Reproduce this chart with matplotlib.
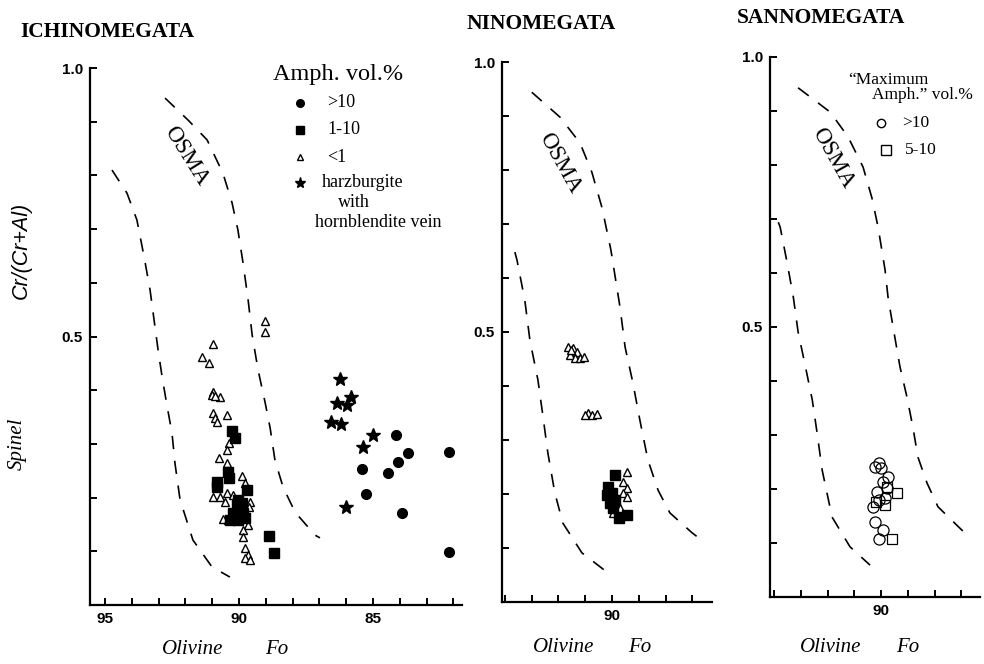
import matplotlib
matplotlib.use("Agg")
import matplotlib.pyplot as plt

plt.rcParams['font.family'] = ['Liberation Serif', 'DejaVu Serif']

# ---- Ichinomegata ----
ichi_tri_fo = [89.03, 89.03, 90.97, 91.38, 91.12, 90.97, 91.0, 90.71, 90.9, 90.97, 90.9, 90.82,
               90.45, 90.37, 90.45, 90.75, 90.45, 90.97, 90.71, 90.45, 90.22, 90.52, 89.89, 89.78,
               89.59, 89.63, 89.66, 89.85, 89.85, 89.78, 89.66, 89.78, 89.59, 90.6, 90.4]
ichi_tri_cr = [0.529, 0.508, 0.486, 0.462, 0.451, 0.397, 0.391, 0.387, 0.390, 0.357, 0.348, 0.341,
               0.354, 0.302, 0.289, 0.274, 0.264, 0.201, 0.201, 0.209, 0.205, 0.192, 0.240, 0.227,
               0.192, 0.183, 0.149, 0.140, 0.127, 0.106, 0.093, 0.088, 0.084, 0.160, 0.158]
ichi_sq_fo = [90.26, 90.15, 90.82, 90.82, 90.37, 90.41, 89.70, 90.04, 90.07, 89.96, 89.85, 90.22,
              90.34, 90.04, 89.78, 88.88, 88.69, 90.15, 89.9]
ichi_sq_cr = [0.324, 0.311, 0.229, 0.220, 0.236, 0.248, 0.214, 0.196, 0.186, 0.181, 0.171, 0.171,
              0.158, 0.158, 0.162, 0.128, 0.097, 0.165, 0.19]
ichi_star_fo = [86.23, 86.34, 85.97, 85.82, 86.57, 86.19, 85.00, 85.37, 86.01]
ichi_star_cr = [0.421, 0.376, 0.372, 0.387, 0.341, 0.337, 0.317, 0.294, 0.183]
ichi_dot_fo = [84.14, 83.69, 82.16, 85.41, 84.07, 84.44, 85.26, 83.92, 82.16]
ichi_dot_cr = [0.317, 0.283, 0.285, 0.253, 0.266, 0.246, 0.207, 0.171, 0.099]

# ---- Ninomegata ----
nino_tri_fo = [91.64, 91.46, 91.31, 91.57, 91.38, 91.19, 91.04, 91.52, 90.90, 90.75, 90.56, 91.0,
               89.44, 89.59, 89.44, 89.59, 89.44, 89.96, 89.7]
nino_tri_cr = [0.472, 0.470, 0.463, 0.457, 0.452, 0.452, 0.454, 0.466, 0.350, 0.346, 0.348, 0.347,
               0.241, 0.222, 0.211, 0.202, 0.194, 0.165, 0.175]
nino_sq_fo = [89.89, 90.15, 90.19, 90.00, 89.89, 90.07, 89.96, 89.74, 89.44]
nino_sq_cr = [0.235, 0.213, 0.198, 0.202, 0.189, 0.183, 0.174, 0.156, 0.161]

# ---- Sannomegata ----
san_circ_fo = [90.22, 90.07, 90.0, 89.74, 89.93, 89.78, 90.15, 90.07, 90.30, 89.85, 90.22, 89.93, 90.07]
san_circ_cr = [0.241, 0.248, 0.239, 0.222, 0.213, 0.202, 0.194, 0.180, 0.167, 0.183, 0.139, 0.124, 0.107]
san_sq_fo = [89.40, 89.59, 89.85, 90.19, 89.78]
san_sq_cr = [0.193, 0.107, 0.170, 0.176, 0.204]

# ---- OSMA dashed boundaries (per panel, as drawn) ----
osma_lo = {
    'ichi': ([94.74, 94.18, 93.81, 93.54, 93.32, 93.17, 93.02, 92.87, 92.69, 92.5, 92.39, 92.2,
              91.72, 91.01, 90.34],
             [0.810, 0.767, 0.717, 0.648, 0.587, 0.531, 0.475, 0.425, 0.372, 0.320, 0.264, 0.196,
              0.121, 0.071, 0.052]),
    'nino': ([93.62, 93.54, 93.25, 93.06, 92.76, 92.57, 92.39, 92.13, 91.83, 91.12, 90.15],
             [0.648, 0.633, 0.559, 0.485, 0.411, 0.343, 0.276, 0.202, 0.146, 0.091, 0.054]),
    'san': ([93.84, 93.77, 93.51, 93.28, 93.10, 92.84, 92.57, 92.39, 92.2, 91.83, 91.16, 90.41],
            [0.694, 0.685, 0.619, 0.556, 0.491, 0.430, 0.365, 0.304, 0.235, 0.148, 0.093, 0.059]),
}
osma_hi = {
    'ichi': ([92.76, 91.9, 91.19, 90.6, 90.26, 90.04, 89.85, 89.66, 89.51, 89.29, 89.03, 88.84,
              88.66, 88.36, 87.91, 87.16, 86.98],
             [0.944, 0.903, 0.866, 0.804, 0.749, 0.698, 0.637, 0.568, 0.503, 0.438, 0.378, 0.330,
              0.270, 0.220, 0.173, 0.130, 0.125]),
    'nino': ([92.99, 91.94, 91.19, 90.75, 90.37, 90.04, 89.70, 89.51, 89.22, 88.96, 88.66, 88.28,
              87.84, 87.01, 86.8],
             [0.944, 0.898, 0.850, 0.796, 0.730, 0.652, 0.546, 0.472, 0.406, 0.337, 0.263, 0.207,
              0.165, 0.128, 0.12]),
    'san': ([93.10, 91.90, 91.23, 90.67, 90.34, 90.11, 89.85, 89.74, 89.55, 89.29, 89.03, 88.81,
             88.62, 88.28, 87.87, 86.98, 86.75],
            [0.943, 0.898, 0.852, 0.796, 0.739, 0.685, 0.606, 0.556, 0.500, 0.426, 0.370, 0.315,
             0.259, 0.211, 0.167, 0.124, 0.115]),
}
osma_label = {'ichi': (91.98, 0.836, -58), 'nino': (91.94, 0.813, -61), 'san': (91.79, 0.813, -61)}

W, H = 984, 664
fig = plt.figure(figsize=(W / 100, H / 100), dpi=100)


def px_axes(left, right, top, bottom):
    return fig.add_axes([left / W, 1 - bottom / H, (right - left) / W, (bottom - top) / H])


def style_axes(ax, xlim, xlabels):
    ax.set_xlim(*xlim)
    ax.set_ylim(0, 1.0)
    for s in ['top', 'right']:
        ax.spines[s].set_visible(False)
    for s in ['left', 'bottom']:
        ax.spines[s].set_linewidth(1.6)
    lo, hi = int(min(xlim)) + 1, int(max(xlim))
    xt = list(range(lo, hi + 1))
    ax.set_xticks(xt)
    ax.set_xticklabels([str(t) if t in xlabels else '' for t in xt])
    yt = [0.1 * i for i in range(1, 11)]
    ax.set_yticks(yt)
    ax.set_yticklabels(['0.5' if i == 5 else ('1.0' if i == 10 else '') for i in range(1, 11)])
    ax.tick_params(direction='in', length=5, width=1.4, pad=5)
    for lab in ax.get_xticklabels() + ax.get_yticklabels():
        lab.set_family('Liberation Sans')
        lab.set_fontweight('bold')
        lab.set_fontsize(11)


def draw_osma(ax, key):
    for curve in (osma_lo[key], osma_hi[key]):
        ax.plot(curve[0], curve[1], color='black', lw=1.2, dashes=(8, 7))
    x, y, rot = osma_label[key]
    ax.text(x, y, 'OSMA', rotation=rot, fontsize=16.5, ha='center', va='center',
            rotation_mode='anchor')


# Panel 1
ax1 = px_axes(90, 462, 68, 605)
style_axes(ax1, (95.56, 81.68), [95, 90, 85])
draw_osma(ax1, 'ichi')
ax1.plot(ichi_tri_fo, ichi_tri_cr, ls='none', marker='^', ms=6, mfc='white', mec='black', mew=1)
ax1.plot(ichi_sq_fo, ichi_sq_cr, ls='none', marker='s', ms=6.5, color='black')
ax1.plot(ichi_star_fo, ichi_star_cr, ls='none', marker='*', ms=10, color='black')
ax1.plot(ichi_dot_fo, ichi_dot_cr, ls='none', marker='o', ms=7, color='black')

t = ax1.transAxes
ax1.text(0.492, 0.987, 'Amph. vol.%', transform=t, fontsize=17.5, va='center')
ax1.plot([0.565], [0.935], marker='o', ms=5.5, color='black', transform=t, clip_on=False)
ax1.plot([0.565], [0.885], marker='s', ms=5.5, color='black', transform=t, clip_on=False)
ax1.plot([0.565], [0.834], marker='^', ms=5, mfc='white', mec='black', transform=t, clip_on=False)
ax1.plot([0.565], [0.786], marker='*', ms=8, color='black', transform=t, clip_on=False)
ax1.text(0.637, 0.935, '>10', transform=t, fontsize=13, va='center')
ax1.text(0.637, 0.885, '1-10', transform=t, fontsize=13, va='center')
ax1.text(0.637, 0.834, '<1', transform=t, fontsize=13, va='center')
ax1.text(0.624, 0.786, 'harzburgite', transform=t, fontsize=13, va='center')
ax1.text(0.667, 0.749, 'with', transform=t, fontsize=13, va='center')
ax1.text(0.605, 0.713, 'hornblendite vein', transform=t, fontsize=13, va='center')

# Panel 2
ax2 = px_axes(502, 712, 62, 602)
style_axes(ax2, (94.1, 86.27), [90])
draw_osma(ax2, 'nino')
ax2.plot(nino_tri_fo, nino_tri_cr, ls='none', marker='^', ms=6, mfc='white', mec='black', mew=1)
ax2.plot(nino_sq_fo, nino_sq_cr, ls='none', marker='s', ms=6.5, color='black')

# Panel 3
ax3 = px_axes(770, 980, 57, 597)
style_axes(ax3, (94.15, 86.3), [90])
draw_osma(ax3, 'san')
ax3.plot(san_circ_fo, san_circ_cr, ls='none', marker='o', ms=8, mfc='none', mec='black', mew=0.9)
ax3.plot(san_sq_fo, san_sq_cr, ls='none', marker='s', ms=7, mfc='none', mec='black', mew=0.9)
t3 = ax3.transAxes
ax3.text(0.371, 0.957, '\u201cMaximum', transform=t3, fontsize=12.5, va='center')
ax3.text(0.486, 0.930, 'Amph.\u201d vol.%', transform=t3, fontsize=12.5, va='center')
ax3.plot([0.529], [0.878], marker='o', ms=6, mfc='none', mec='black', transform=t3, clip_on=False)
ax3.plot([0.552], [0.828], marker='s', ms=6.5, mfc='none', mec='black', transform=t3, clip_on=False)
ax3.text(0.629, 0.878, '>10', transform=t3, fontsize=12.5, va='center')
ax3.text(0.643, 0.828, '5-10', transform=t3, fontsize=12.5, va='center')

# Titles and axis labels
fig.text(20 / W, 1 - 32 / H, 'ICHINOMEGATA', fontsize=15.5, fontweight='bold', va='center')
fig.text(467 / W, 1 - 24 / H, 'NINOMEGATA', fontsize=15.5, fontweight='bold', va='center')
fig.text(737 / W, 1 - 18 / H, 'SANNOMEGATA', fontsize=15.5, fontweight='bold', va='center')

fig.text(21 / W, 1 - 250 / H, 'Cr/(Cr+Al)', family='Liberation Sans', style='italic',
         fontsize=15.5, rotation=90, ha='center', va='center')
fig.text(17 / W, 1 - 444 / H, 'Spinel', style='italic', fontsize=15, rotation=90,
         ha='center', va='center')

for xo, xf, y in [(193, 277, 650), (564, 640, 648), (831, 908, 647)]:
    fig.text(xo / W, 1 - y / H, 'Olivine', style='italic', fontsize=15, ha='center', va='center')
    fig.text(xf / W, 1 - y / H, 'Fo', style='italic', fontsize=15, ha='center', va='center')

fig.savefig('out.png', dpi=100)
